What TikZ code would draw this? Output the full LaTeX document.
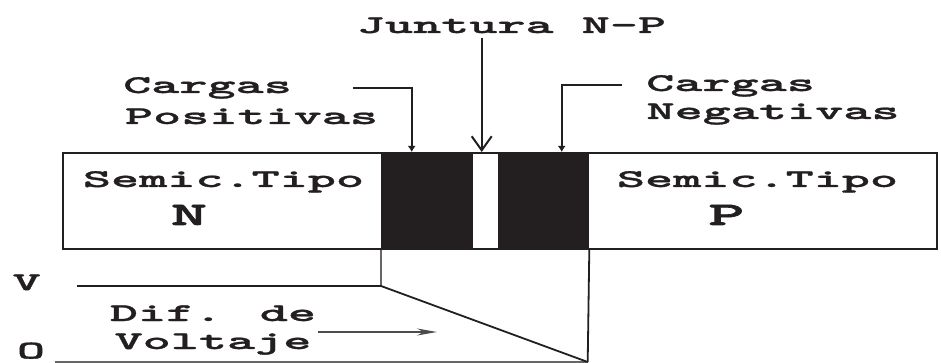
\documentclass[tikz,border=0pt]{standalone}
\usepackage{fontspec}
\usetikzlibrary{arrows.meta}
% wide, heavy slab-serif typewriter lettering used for every label
\newfontfamily\labelfont{lmmonolt10-bold.otf}[FakeStretch=2.1, FakeBold=1.2]
\newfontfamily\biglabelfont{lmmonolt10-bold.otf}[FakeStretch=2.1, FakeBold=2]
\definecolor{ink}{HTML}{231F20}
\tikzset{
  lbl/.style={font=\labelfont\fontsize{25.5}{30}\selectfont, text=ink, inner sep=0pt, anchor=base},
  biglbl/.style={font=\biglabelfont\fontsize{33}{38}\selectfont, text=ink, inner sep=0pt, anchor=base},
  region/.style={draw=ink, line width=1.6pt, inner sep=0pt, anchor=north west},
  charged/.style={region, fill=ink},
  pointer/.style={draw=ink, line width=1.6pt, -{Latex[length=6pt,width=8pt]}},
  junction/.style={draw=ink, line width=1.6pt, -{Straight Barb[length=14pt,width=20pt,line width=2pt]}},
  curve/.style={draw=ink, line width=1.8pt},
  guide/.style={draw=black!60, line width=1.4pt},
}
\begin{document}
\begin{tikzpicture}[x=1pt, y=-1pt]
  \useasboundingbox (0,0) rectangle (941,363);

  % semiconductor bar: N region, depletion layers, junction, P region
  \node[region, minimum width=319pt, minimum height=96pt] (nside) at (62,152) {};
  \node[charged, minimum width=90pt, minimum height=96pt] (pos) at (381,152) {};
  \node[region, minimum width=26.7pt, minimum height=96pt] (junc) at (471,152) {};
  \node[charged, minimum width=90pt, minimum height=96pt] (neg) at (497.7,152) {};
  \node[region, minimum width=348.3pt, minimum height=96pt] (pside) at (587.7,152) {};

  \node[lbl] (semN) at (223.5,187) {Semic.Tipo};
  \node[biglbl] (typN) at (189,225) {N};
  \node[lbl] (semP) at (757.5,187) {Semic.Tipo};
  \node[biglbl] (typP) at (726.5,225) {P};

  % labels above the bar
  \node[lbl] (juncA) at (511.5,33) {Juntura N-P};
  \node[lbl] (posA) at (207.5,93) {Cargas};
  \node[lbl] (posB) at (251.5,124) {Positivas};
  \node[lbl] (negA) at (730.5,91) {Cargas};
  \node[lbl] (negB) at (773,119) {Negativas};

  % pointers to the bar
  \coordinate (posStart) at (353,88);
  \coordinate (posEnd) at (411.7,152);
  \coordinate (juncStart) at (481.7,38);
  \coordinate (juncEnd) at (481.7,152);
  \coordinate (negStart) at (621.7,85);
  \coordinate (negEnd) at (561.7,152);
  \draw[pointer] (posStart) -| (posEnd);
  \draw[junction] (juncStart) -- (juncEnd);
  \draw[pointer] (negStart) -| (negEnd);

  % potential profile below the bar
  \node[lbl] (vtop) at (26.7,290) {V};
  \node[lbl] (vzero) at (31,358.5) {O};
  \coordinate (vStart) at (77,286);
  \coordinate (kneeA) at (381,286);
  \coordinate (kneeB) at (587.7,362);
  \coordinate (zStart) at (55,362);
  \draw[guide] (pos.south west) -- (kneeA);
  \draw[guide] (zStart) -- (kneeB);
  \draw[curve] (vStart) -- (kneeA) -- (kneeB);
  \draw[curve] (neg.south east) -- (kneeB);

  \node[lbl] (difA) at (213,321) {Dif. de};
  \node[lbl] (difB) at (213,349) {Voltaje};
  \coordinate (difStart) at (318,332);
  \coordinate (difEnd) at (437,332);
  \draw[guide, draw=black!70, -{Stealth[length=20pt,width=7pt]}] (difStart) -- (difEnd);
\end{tikzpicture}
\end{document}
